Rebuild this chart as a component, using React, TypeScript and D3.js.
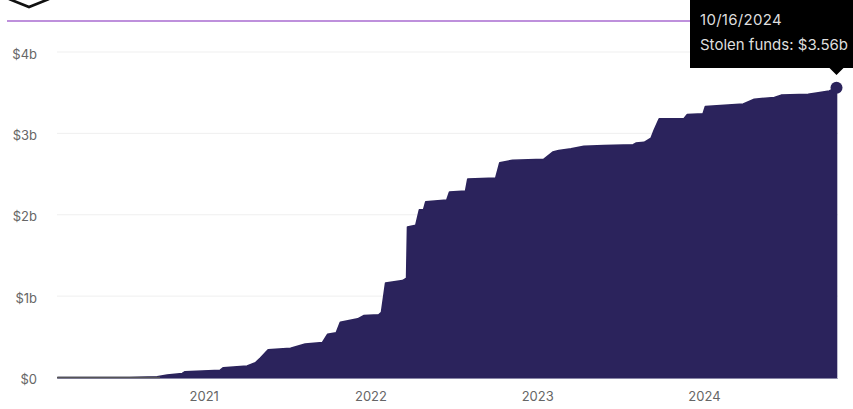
import React from "react";
import * as d3 from "d3";

const dates = [
  "2020-02-16","2020-07-22","2020-09-20","2020-10-12","2020-11-14","2020-11-20","2021-02-05","2021-02-12",
  "2021-04-05","2021-04-23","2021-05-04","2021-05-21","2021-07-09","2021-08-10","2021-09-17","2021-09-28",
  "2021-10-17","2021-10-26","2021-12-03","2021-12-16","2022-01-18","2022-01-24","2022-02-02","2022-03-11",
  "2022-03-20","2022-03-22","2022-04-09","2022-04-17","2022-04-26","2022-05-01","2022-06-16","2022-06-22",
  "2022-07-27","2022-08-01","2022-10-01","2022-10-10","2022-11-07","2023-01-14","2023-02-03","2023-02-16",
  "2023-03-15","2023-04-12","2023-05-26","2023-07-29","2023-08-04","2023-08-22","2023-09-06","2023-09-13",
  "2023-09-24","2023-11-17","2023-11-24","2023-12-29","2024-01-03","2024-03-26","2024-04-19","2024-06-02",
  "2024-06-17","2024-08-15","2024-09-06","2024-09-30","2024-10-16",
];

// Cumulative stolen funds, in billions of dollars
const stolenFunds = [
  0,0,0.01,0.03,0.05,0.07,0.09,0.12,
  0.14,0.18,0.24,0.34,0.36,0.41,0.43,0.53,
  0.55,0.68,0.72,0.76,0.77,0.80,1.16,1.19,
  1.22,1.85,1.87,2.06,2.06,2.16,2.18,2.28,
  2.29,2.44,2.45,2.64,2.67,2.68,2.77,2.79,
  2.81,2.84,2.85,2.86,2.88,2.89,2.94,3.04,
  3.18,3.18,3.23,3.24,3.33,3.36,3.42,3.44,
  3.47,3.48,3.50,3.52,3.56,
];

const yTicks = [0, 1, 2, 3, 4];
const yTickLabels = ["$0", "$1b", "$2b", "$3b", "$4b"];
const yearTicks = ["2021-01-01", "2022-01-01", "2023-01-01", "2024-01-01"];
const tooltipDate = "10/16/2024";
const tooltipLabel = "Stolen funds: $3.56b";

const WIDTH = 853;
const HEIGHT = 409;
const FONT = "Inter, 'Noto Sans', sans-serif";
const AREA_COLOR = "#2b235c";

const parse = d3.utcParse("%Y-%m-%d");
const points = dates.map((d, i) => ({ date: parse(d) as Date, value: stolenFunds[i] }));

const x = d3
  .scaleUtc()
  .domain([points[0].date, points[points.length - 1].date])
  .range([58, 836.5]);
const y = d3.scaleLinear().domain([0, 4]).range([377.5, 52]);

const areaPath = d3
  .area<{ date: Date; value: number }>()
  .x((d) => x(d.date))
  .y0(y(0))
  .y1((d) => y(d.value))(points) as string;

export default function App() {
  const last = points[points.length - 1];
  const px = x(last.date);
  const py = y(last.value);
  return (
    <svg
      width={WIDTH}
      height={HEIGHT}
      viewBox={`0 0 ${WIDTH} ${HEIGHT}`}
      style={{ position: "absolute", left: 0, top: 0, background: "#fff" }}
      fontFamily={FONT}
    >
      {/* Logo, cut off by the top of the frame */}
      <path d="M9 -1 L29 7 L49 -1" fill="none" stroke="#111" strokeWidth={2.6} />
      <line x1={7} x2={700} y1={21} y2={21} stroke="#a86bd0" strokeWidth={1.4} />

      {yTicks.map((t, i) => (
        <g key={t}>
          {t > 0 && <line x1={57} x2={838} y1={y(t)} y2={y(t)} stroke="#efefef" strokeWidth={1} />}
          <text x={37} y={y(t) + 6.5} textAnchor="end" fontSize={13} fill="#666">
            {yTickLabels[i]}
          </text>
        </g>
      ))}

      {yearTicks.map((t) => {
        const d = parse(t) as Date;
        return (
          <text key={t} x={x(d)} y={401} textAnchor="middle" fontSize={13} fill="#666">
            {d3.utcFormat("%Y")(d)}
          </text>
        );
      })}

      <line x1={57} x2={838} y1={y(0) + 1} y2={y(0) + 1} stroke="#aaa8c0" strokeWidth={1} />
      <path d={areaPath} fill={AREA_COLOR} stroke={AREA_COLOR} strokeWidth={1.6} strokeLinejoin="round" />
      <line x1={57} x2={160} y1={y(0)} y2={y(0)} stroke="#555" strokeWidth={1.6} />
      <circle cx={px} cy={py} r={6} fill={AREA_COLOR} />

      {/* Tooltip pinned to the latest point */}
      <path
        d={`M690 0 H${WIDTH} V68 H${px + 7} L${px} 75 L${px - 7} 68 H690 Z`}
        fill="#000"
      />
      <text x={700} y={25} fontSize={15} letterSpacing={0.3} fill="#dedede">{tooltipDate}</text>
      <text x={700} y={50} fontSize={15} fill="#dedede">{tooltipLabel}</text>
    </svg>
  );
}
